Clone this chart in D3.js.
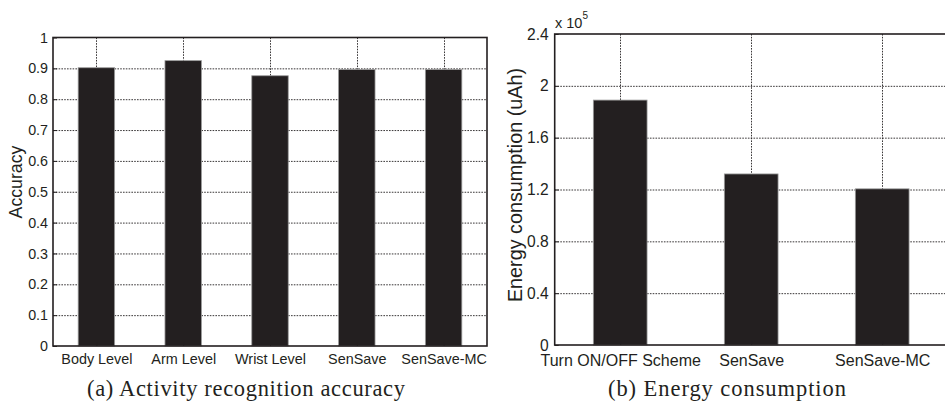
<!DOCTYPE html>
<html>
<head>
<meta charset="utf-8">
<script src="https://cdn.jsdelivr.net/npm/d3@7"></script>
<style>
  html, body { margin: 0; padding: 0; background: #fff; }
  svg { display: block; }
</style>
</head>
<body>
<svg id="fig" width="945" height="406"></svg>
<script>
// (a) Activity recognition accuracy
const accCategories = ["Body Level", "Arm Level", "Wrist Level", "SenSave", "SenSave-MC"];
const accValues = [0.902, 0.925, 0.876, 0.896, 0.896];
const accTicks = [0, 0.1, 0.2, 0.3, 0.4, 0.5, 0.6, 0.7, 0.8, 0.9, 1];

// (b) Energy consumption, in units of 10^5 uAh
const energyCategories = ["Turn ON/OFF Scheme", "SenSave", "SenSave-MC"];
const energyValues = [1.89, 1.32, 1.205];
const energyTicks = [0, 0.4, 0.8, 1.2, 1.6, 2, 2.4];

const svg = d3.select("#fig");
const ink = "#231f20";
const sans = "'Liberation Sans', Arial, Helvetica, sans-serif";
const serif = "'Liberation Serif', 'Times New Roman', serif";

function panel(opts) {
  const g = svg.append("g");
  const n = opts.categories.length;
  const x = d3.scaleLinear().domain([0.5, n + 0.5]).range([opts.left, opts.right]);
  const y = d3.scaleLinear().domain(opts.yDomain).range([opts.bottom, opts.top]);
  const idx = d3.range(1, n + 1);

  // dotted grid
  const grid = g.append("g")
    .attr("stroke", ink).attr("stroke-width", 0.9)
    .attr("stroke-dasharray", "1.6,1.2");
  grid.selectAll("line.h").data(opts.ticks.filter(t => t > opts.yDomain[0] && t < opts.yDomain[1]))
    .join("line").attr("class", "h")
    .attr("x1", opts.left).attr("x2", opts.right)
    .attr("y1", d => y(d) + 0.5).attr("y2", d => y(d) + 0.5);
  grid.selectAll("line.v").data(idx)
    .join("line").attr("class", "v")
    .attr("x1", d => Math.round(x(d)) + 0.5).attr("x2", d => Math.round(x(d)) + 0.5)
    .attr("y1", opts.top).attr("y2", opts.bottom);

  // bars
  const bw = (x(2) - x(1)) * opts.barFrac;
  g.append("g").selectAll("rect").data(opts.values)
    .join("rect")
    .attr("x", (d, i) => x(i + 1) - bw / 2)
    .attr("width", bw)
    .attr("y", d => y(d))
    .attr("height", d => y(opts.yDomain[0]) - y(d))
    .attr("fill", ink)
    .attr("stroke", "#9a9a9a").attr("stroke-width", 0.8);

  // y axis
  const yAxis = d3.axisLeft(y).tickValues(opts.ticks).tickSize(-4).tickPadding(opts.yPad)
    .tickFormat(d3.format("~g"));
  const ya = g.append("g").attr("transform", `translate(${opts.left},0)`).call(yAxis);
  ya.select(".domain").remove();
  ya.selectAll("line").attr("stroke", ink);
  ya.selectAll("text").style("font-family", sans).style("font-size", opts.fontSize + "px")
    .attr("fill", ink);

  // x axis
  const xAxis = d3.axisBottom(x).tickValues(idx).tickSize(-4).tickPadding(opts.xPad)
    .tickFormat(d => opts.categories[d - 1]);
  const xa = g.append("g").attr("transform", `translate(0,${opts.bottom})`).call(xAxis);
  xa.select(".domain").remove();
  xa.selectAll("line").attr("stroke", ink);
  xa.selectAll("text").style("font-family", sans).style("font-size", opts.xFontSize + "px")
    .attr("fill", ink);

  // box
  g.append("rect")
    .attr("x", opts.left).attr("y", opts.top)
    .attr("width", opts.right - opts.left).attr("height", opts.bottom - opts.top)
    .attr("fill", "none").attr("stroke", ink).attr("stroke-width", 1.6);

  // y label
  g.append("text")
    .attr("transform", `translate(${opts.ylabelX},${opts.ylabelY}) rotate(-90)`)
    .attr("text-anchor", "middle")
    .style("font-family", sans).style("font-size", opts.labelSize + "px").attr("fill", ink)
    .text(opts.ylabel);

  // caption
  g.append("text")
    .attr("x", opts.captionX).attr("y", 396)
    .attr("text-anchor", "middle")
    .attr("textLength", opts.captionWidth).attr("lengthAdjust", "spacing")
    .style("font-family", serif).style("font-size", "22.5px").attr("fill", ink)
    .text(opts.caption);

  return { x, y, g };
}

panel({
  categories: accCategories, values: accValues, ticks: accTicks,
  yDomain: [0, 1], left: 53, right: 487, top: 37.5, bottom: 346,
  barFrac: 0.42, fontSize: 14.3, xFontSize: 14.4, labelSize: 17.7, yPad: 5, xPad: 8,
  ylabelX: 22, ylabelY: 182, ylabel: "Accuracy",
  caption: "(a) Activity recognition accuracy", captionX: 246, captionWidth: 318
});

const pb = panel({
  categories: energyCategories, values: energyValues, ticks: energyTicks,
  yDomain: [0, 2.4], left: 554.7, right: 947.7, top: 34, bottom: 345,
  barFrac: 0.41, fontSize: 15.6, xFontSize: 16, labelSize: 19.8, yPad: 6, xPad: 10,
  ylabelX: 522, ylabelY: 185, ylabel: "Energy consumption (uAh)",
  caption: "(b) Energy consumption", captionX: 727, captionWidth: 238
});

// exponent marker
const ex = pb.g.append("text")
  .attr("x", 555).attr("y", 27.7)
  .style("font-family", sans).style("font-size", "14.5px").attr("fill", ink);
ex.append("tspan").text("x 10");
ex.append("tspan").attr("dy", -9).style("font-size", "10px").text("5");
</script>
</body>
</html>
